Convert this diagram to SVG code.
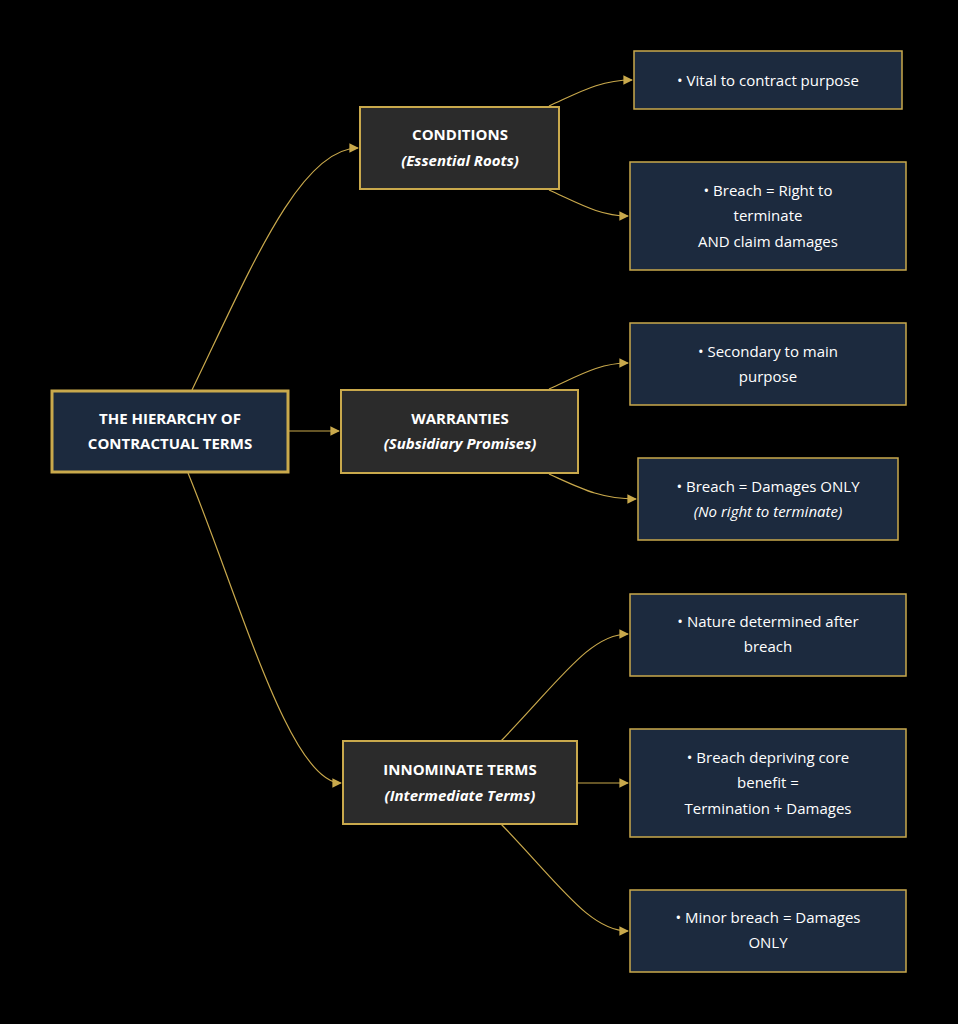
<svg xmlns="http://www.w3.org/2000/svg" width="958" height="1024" viewBox="0 0 958 1024">
<style>
.n{fill:#1c2a3e;stroke:#c9a94c;stroke-width:1.5}
.r{fill:#1c2a3e;stroke:#c9a94c;stroke-width:3}
.c{fill:#2b2b2b;stroke:#c9a94c;stroke-width:2}
text{font-family:"Open Sans","Noto Sans",sans-serif;font-size:15px;fill:#ffffff;text-anchor:middle}
.b{font-weight:bold}
.i{font-style:italic;font-weight:bold}
.e{fill:none;stroke:#c9a94c;stroke-width:1.2}
</style>
<defs><marker id="a" viewBox="0 0 10 10" refX="9" refY="5" markerWidth="8" markerHeight="8" orient="auto"><path d="M0,0L10,5L0,10z" fill="#c9a94c"/></marker></defs>
<rect width="958" height="1024" fill="#000"/>
<g id="edges">
<path class="e" marker-end="url(#a)" d="M192,390 C250,270 300,148 358,148"/>
<path class="e" marker-end="url(#a)" d="M289,431 L339,431"/>
<path class="e" marker-end="url(#a)" d="M188,473 C240,600 290,783 341,783"/>
<path class="e" marker-end="url(#a)" d="M549,106 C580,92 600,80 632,80"/>
<path class="e" marker-end="url(#a)" d="M549,190 C580,204 600,216 628,216"/>
<path class="e" marker-end="url(#a)" d="M549,389 C580,375 600,363 628,363"/>
<path class="e" marker-end="url(#a)" d="M549,474 C580,488 600,499 636,499"/>
<path class="e" marker-end="url(#a)" d="M501,741 C560,680 590,634 628,634"/>
<path class="e" marker-end="url(#a)" d="M577,783 L628,783"/>
<path class="e" marker-end="url(#a)" d="M501,824 C560,885 590,931 628,931"/>
</g>
<g id="root"><rect class="r" x="52" y="391" width="236" height="81"/><text class="b" x="170" y="424">THE HIERARCHY OF</text><text class="b" x="170" y="449">CONTRACTUAL TERMS</text></g>
<g id="conditions"><rect class="c" x="360" y="107" width="199" height="82"/><text class="b" x="460" y="140">CONDITIONS</text><text class="i" x="460" y="166">(Essential Roots)</text></g>
<g id="warranties"><rect class="c" x="341" y="390" width="237" height="83"/><text class="b" x="460" y="424">WARRANTIES</text><text class="i" x="460" y="449">(Subsidiary Promises)</text></g>
<g id="innominate"><rect class="c" x="343" y="741" width="234" height="83"/><text class="b" x="460" y="775">INNOMINATE TERMS</text><text class="i" x="460" y="801">(Intermediate Terms)</text></g>
<g id="l1"><rect class="n" x="634" y="51" width="268" height="58"/><text x="768" y="86">• Vital to contract purpose</text></g>
<g id="l2"><rect class="n" x="630" y="162" width="276" height="108"/><text x="768" y="196">• Breach = Right to</text><text x="768" y="221">terminate</text><text x="768" y="247">AND claim damages</text></g>
<g id="l3"><rect class="n" x="630" y="323" width="276" height="82"/><text x="768" y="357">• Secondary to main</text><text x="768" y="382">purpose</text></g>
<g id="l4"><rect class="n" x="638" y="458" width="260" height="82"/><text x="768" y="492">• Breach = Damages ONLY</text><text x="768" y="517" font-style="italic">(No right to terminate)</text></g>
<g id="l5"><rect class="n" x="630" y="594" width="276" height="82"/><text x="768" y="627">• Nature determined after</text><text x="768" y="652">breach</text></g>
<g id="l6"><rect class="n" x="630" y="729" width="276" height="108"/><text x="768" y="763">• Breach depriving core</text><text x="768" y="788">benefit =</text><text x="768" y="814">Termination + Damages</text></g>
<g id="l7"><rect class="n" x="630" y="890" width="276" height="82"/><text x="768" y="923">• Minor breach = Damages</text><text x="768" y="948">ONLY</text></g>
</svg>
